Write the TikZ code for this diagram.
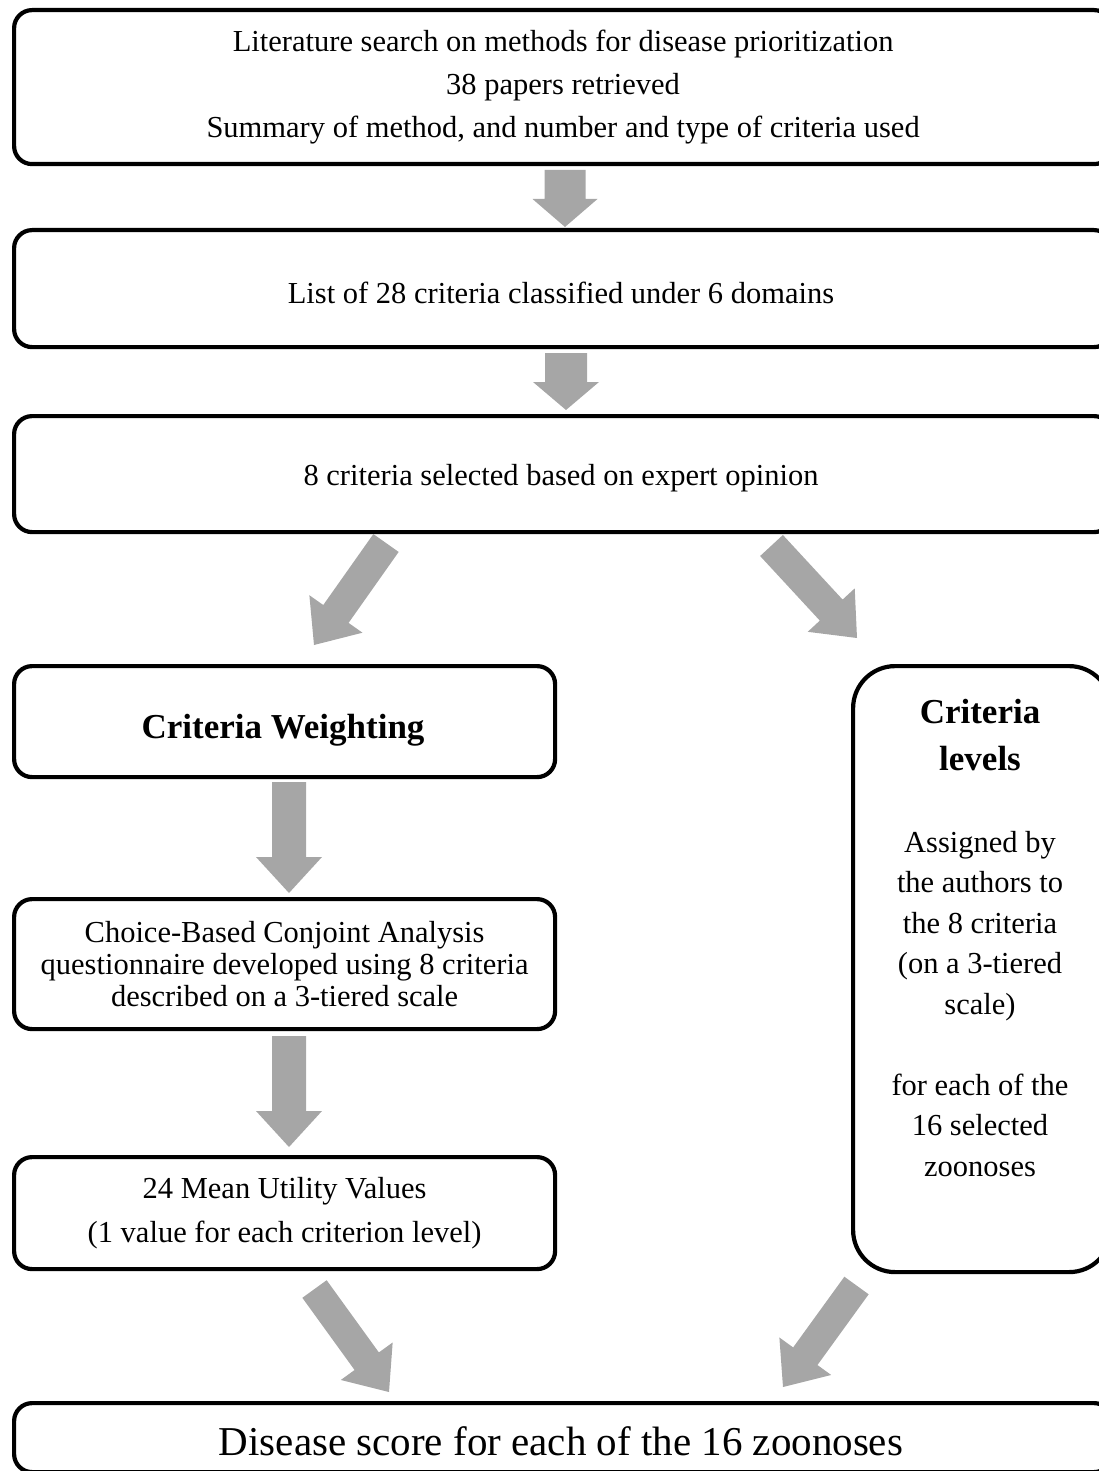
\documentclass[tikz,border=0pt]{standalone}
\usepackage{fontspec}
\setmainfont{Liberation Serif}
\usetikzlibrary{calc}
\definecolor{arrowgray}{HTML}{A6A6A6}
\tikzset{
  box/.style={draw, line width=4.2pt, rounded corners=18pt, inner sep=0pt, anchor=north west, align=center},
  roundbox/.style={box, rounded corners=42pt},
  txt/.style={font=\fontsize{30.5}{43}\selectfont},
  boldtxt/.style={font=\fontsize{35}{47}\selectfont\bfseries},
  plain/.style={inner sep=0pt, align=center},
}
% block arrow: #1 tail, #2 tip, #3 shaft half width, #4 head half width, #5 head length
\newcommand\blockarrow[5]{%
  \coordinate (hb) at ($(#2)!#5!(#1)$);
  \fill[arrowgray] ($(#1)!#3!90:(#2)$) -- ($(hb)!#3!90:(#2)$) -- ($(hb)!#4!90:(#2)$) -- (#2)
    -- ($(hb)!#4!-90:(#2)$) -- ($(hb)!#3!-90:(#2)$) -- ($(#1)!#3!-90:(#2)$) -- cycle;
}
\begin{document}
\begin{tikzpicture}[x=1pt,y=-1pt]
\useasboundingbox (0,0) rectangle (1099,1471);
\clip (0,0) rectangle (1099,1471);

% boxes
\node[box, txt, minimum width=1098pt, minimum height=154pt] (b1) at (12,8)
  {Literature search on methods for disease prioritization\\38 papers retrieved\\Summary of method, and number and type of criteria used};
\node[box, minimum width=1098pt, minimum height=117pt] (b2) at (12,228) {};
\node[plain, txt] (b2t) at (561,293) {List of 28 criteria classified under 6 domains};
\node[box, minimum width=1098pt, minimum height=116pt] (b3) at (12,414) {};
\node[plain, txt] (b3t) at (561,478) {8 criteria selected based on expert opinion};
\node[box, minimum width=541pt, minimum height=111pt] (cw) at (12,664) {};
\node[plain, boldtxt] (cwt) at (283,730) {Criteria Weighting};
\node[box, font=\fontsize{30.5}{32}\selectfont, minimum width=541pt, minimum height=130pt] (cb) at (12,897)
  {Choice-Based Conjoint Analysis\\questionnaire developed using 8 criteria\\described on a 3-tiered scale};
\node[box, font=\fontsize{30.5}{44}\selectfont, minimum width=541pt, minimum height=112pt] (mu) at (12,1155)
  {24 Mean Utility Values\\(1 value for each criterion level)};
\node[roundbox, minimum width=258pt, minimum height=606pt] (cl) at (851,664) {};
\node[plain, boldtxt] (clt) at (980,735) {Criteria\\levels};
\node[plain, font=\fontsize{30.5}{40.5}\selectfont] (clb) at (980,1004)
  {Assigned by\\the authors to\\the 8 criteria\\(on a 3-tiered\\scale)\\[40.5pt]for each of the\\16 selected\\zoonoses};
\node[box, minimum width=1098pt, minimum height=69pt] (ds) at (12,1401) {};
\node[plain, font=\fontsize{41}{48}\selectfont] (dst) at (561,1441) {Disease score for each of the 16 zoonoses};

% arrow end points
\coordinate (a1s) at (565,170);  \coordinate (a1e) at (565,227);
\coordinate (a2s) at (566,353);  \coordinate (a2e) at (566,410);
\coordinate (a3s) at (386,543);  \coordinate (a3e) at (314,645);
\coordinate (a4s) at (771.5,545.5); \coordinate (a4e) at (857,638);
\coordinate (a5s) at (289,782);  \coordinate (a5e) at (289,893);
\coordinate (a6s) at (289,1036); \coordinate (a6e) at (289,1147);
\coordinate (a7s) at (314.5,1289); \coordinate (a7e) at (389,1392);
\coordinate (a8s) at (856.5,1285.5); \coordinate (a8e) at (783,1387);

\blockarrow{a1s}{a1e}{20.5pt}{32.5pt}{28pt}
\blockarrow{a2s}{a2e}{21pt}{33pt}{28pt}
\blockarrow{a3s}{a3e}{15.5pt}{32.5pt}{38pt}
\blockarrow{a4s}{a4e}{15.5pt}{32pt}{38pt}
\blockarrow{a5s}{a5e}{17pt}{33pt}{36pt}
\blockarrow{a6s}{a6e}{17pt}{33pt}{36pt}
\blockarrow{a7s}{a7e}{15pt}{32pt}{38pt}
\blockarrow{a8s}{a8e}{15pt}{32pt}{38pt}
\end{tikzpicture}
\end{document}
